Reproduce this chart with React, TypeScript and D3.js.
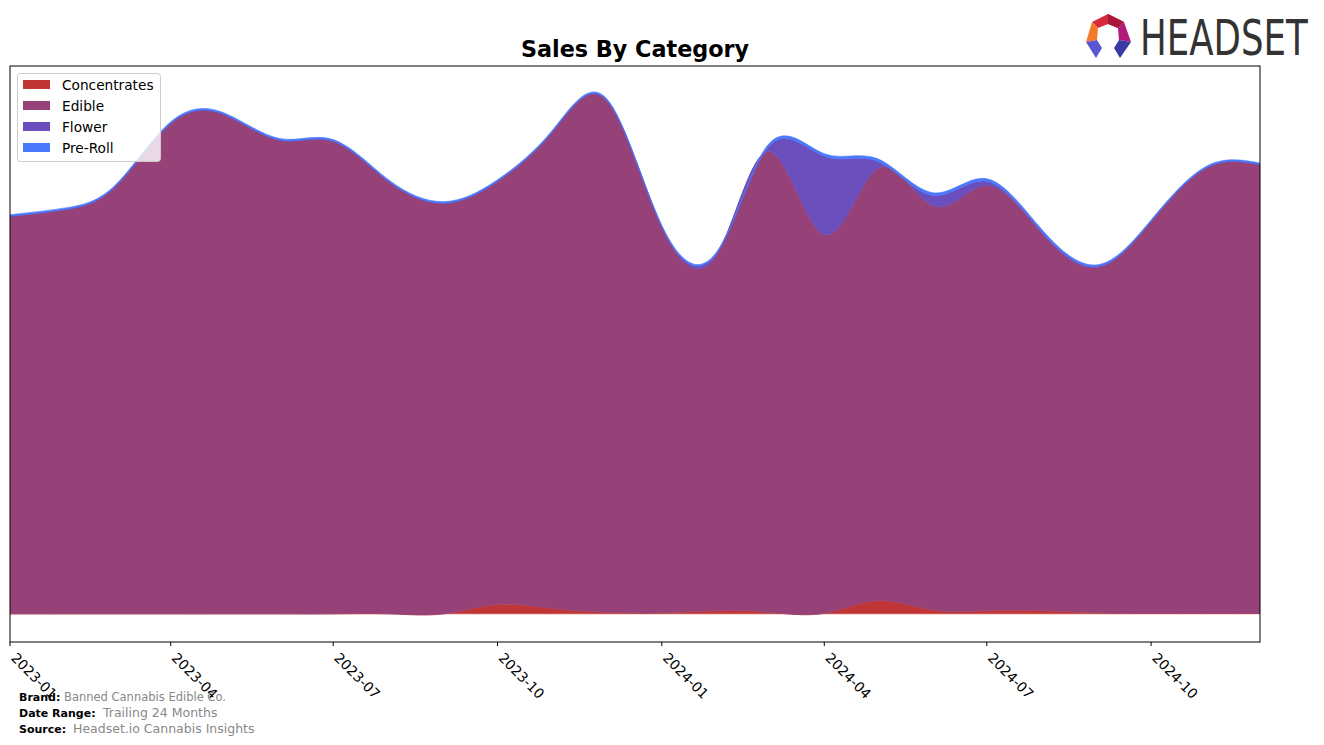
import React from "react";
import * as d3 from "d3";

const months: string[] = [
  "2023-01", "2023-02", "2023-03", "2023-04", "2023-05", "2023-06",
  "2023-07", "2023-08", "2023-09", "2023-10", "2023-11", "2023-12",
  "2024-01", "2024-02", "2024-03", "2024-04", "2024-05", "2024-06",
  "2024-07", "2024-08", "2024-09", "2024-10", "2024-11", "2024-12",
];
const categories: string[] = ["Concentrates", "Edible", "Flower", "Pre-Roll"];
const concentrates: number[] = [0, 0, 0, 0, 0, 0, 0, 0, 0, 1.8, 1.0, 0.3, 0.2, 0.6, 0.3, 0.1, 2.5, 0.7, 0.6, 0.6, 0.2, 0.1, 0.1, 0.1];
const edible: number[] = [76.2, 77.5, 81.9, 94.0, 95.7, 90.8, 90.6, 82.9, 78.7, 81.1, 91.5, 98.2, 74.0, 68.4, 88.3, 72.6, 82.9, 77.5, 81.5, 72.3, 66.2, 75.1, 85.4, 86.0];
const flower: number[] = [0, 0, 0, 0, 0, 0, 0, 0, 0, 0, 0, 0, 0, 0.2, 1.0, 15.0, 1.3, 2.0, 0.8, 0.3, 0.2, 0, 0, 0];
const preRoll: number[] = [0.3, 0.3, 0.3, 0.3, 0.3, 0.3, 0.3, 0.3, 0.3, 0.3, 0.3, 0.3, 0.3, 0.3, 0.5, 0.5, 0.5, 0.5, 0.5, 0.4, 0.3, 0.3, 0.3, 0.3];
const tickLabels: string[] = ["2023-01", "2023-04", "2023-07", "2023-10", "2024-01", "2024-04", "2024-07", "2024-10"];
const colors: string[] = ["#c13534", "#964178", "#6a4ebc", "#4a78fb"];

const W = 1324;
const H = 745;
const left = 10, right = 1260, top = 66, bottom = 642;

export default function App() {
  const parse = d3.utcParse("%Y-%m");
  const dates = months.map((m) => parse(m) as Date);
  const x = d3.scaleUtc().domain([dates[0], dates[dates.length - 1]]).range([left, right]);
  const y = d3.scaleLinear().domain([-5.4, 105]).range([bottom, top]);

  const rows = months.map((m, i) => ({
    i,
    Concentrates: concentrates[i],
    Edible: edible[i],
    Flower: flower[i],
    "Pre-Roll": preRoll[i],
  }));
  const series = d3.stack<any>().keys(categories)(rows);
  const area = d3
    .area<any>()
    .x((d) => x(dates[d.data.i]))
    .y0((d) => y(d[0]))
    .y1((d) => y(d[1]))
    .curve(d3.curveNatural);

  const font = "DejaVu Sans, sans-serif";

  return (
    <svg width={W} height={H} style={{ position: "absolute", left: 0, top: 0, background: "#fff" }} fontFamily={font}>
      <defs>
        <clipPath id="plotclip">
          <rect x={left} y={top} width={right - left} height={bottom - top} />
        </clipPath>
      </defs>
      <rect x={0} y={0} width={W} height={H} fill="#fff" />
      <text x={635} y={57} textAnchor="middle" fontSize={22.3} fontWeight="bold" fill="#000">
        Sales By Category
      </text>
      <g clipPath="url(#plotclip)">
        {series.map((s, k) => (
          <path key={categories[k]} d={area(s as any) || ""} fill={colors[k]} stroke={colors[k]} strokeWidth={0.6} />
        ))}
      </g>
      <rect x={left} y={top} width={right - left} height={bottom - top} fill="none" stroke="#000" strokeWidth={1} />
      {tickLabels.map((t) => {
        const tx = x(parse(t) as Date);
        return (
          <g key={t}>
            <line x1={tx} x2={tx} y1={bottom} y2={bottom + 4} stroke="#000" />
            <text transform={`translate(${tx + 6},${bottom + 11}) rotate(45)`} fontSize={13.8} fill="#000" dy="0.6em">
              {t}
            </text>
          </g>
        );
      })}
      <g>
        <rect x={17.5} y={73.5} width={143} height={88} rx={3} fill="#fff" fillOpacity={0.8} stroke="#cccccc" />
        {categories.map((c, i) => (
          <g key={c}>
            <rect x={23} y={80 + i * 21} width={27} height={9} fill={colors[i]} />
            <text x={62} y={90 + i * 21} fontSize={13.7} fill="#000">
              {c}
            </text>
          </g>
        ))}
      </g>
      <g fontSize={11}>
        <text x={19} y={701} fontWeight="bold" fill="#000">Brand:</text>
        <text x={64} y={701} fill="#888" fontSize={11.5}>Banned Cannabis Edible Co.</text>
        <text x={19} y={717} fontWeight="bold" fill="#000">Date Range:</text>
        <text x={103} y={717} fill="#888" fontSize={12.5}>Trailing 24 Months</text>
        <text x={19} y={733} fontWeight="bold" fill="#000">Source:</text>
        <text x={73} y={733} fill="#888" fontSize={12.5}>Headset.io Cannabis Insights</text>
      </g>
      <g>
        <polygon points="1092,22 1108,14 1124,22 1118,28 1108,24 1098,28" fill="#d42a3c" />
        <polygon points="1108,14 1124,22 1118,28 1108,24" fill="#a8163a" />
        <polygon points="1092,22 1098,28 1097,40 1086,42" fill="#f27b2a" />
        <polygon points="1124,22 1131,42 1119,40 1118,28" fill="#b51a7a" />
        <polygon points="1086,42 1097,40 1102,48 1096,58" fill="#5a55d0" />
        <polygon points="1131,42 1119,40 1114,48 1120,58" fill="#3a3aa5" />
        <text transform="translate(1140,55) scale(0.78,1)" x={0} y={0} fontSize={50} fill="#333" fontFamily="DejaVu Sans Condensed, DejaVu Sans, sans-serif" textLength={215} lengthAdjust="spacingAndGlyphs">
          HEADSET
        </text>
      </g>
    </svg>
  );
}
